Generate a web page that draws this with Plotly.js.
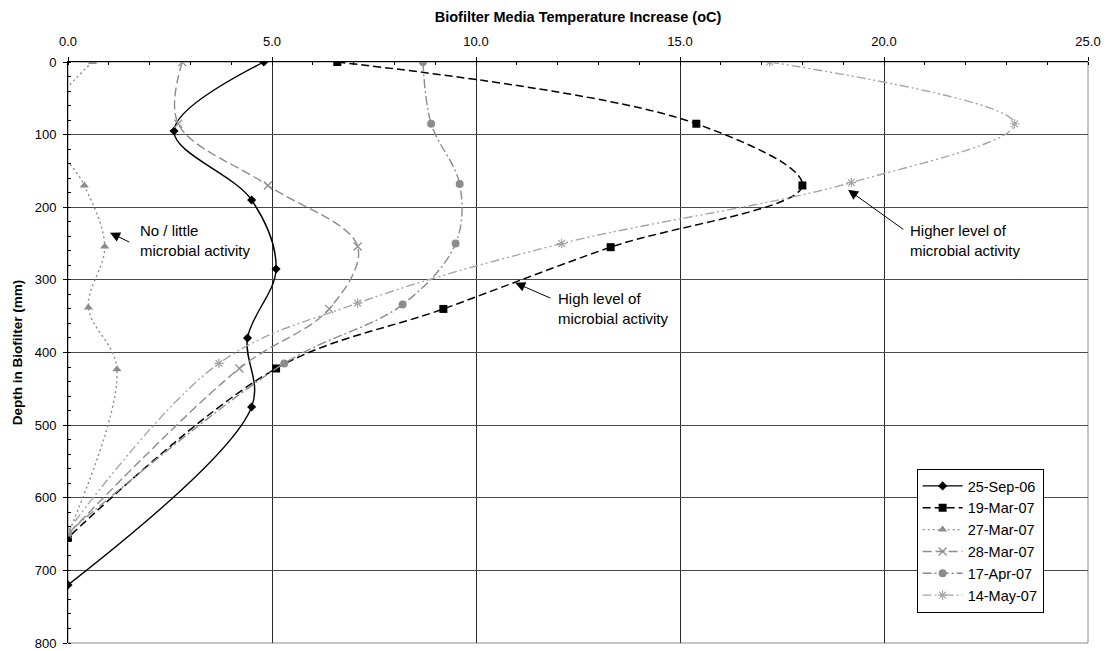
<!DOCTYPE html>
<html>
<head>
<meta charset="utf-8">
<script src="https://cdn.plot.ly/plotly-3.0.1.min.js"></script>
<style>html,body{margin:0;padding:0;background:#fff;}#chart{width:1107px;height:651px;}</style>
</head>
<body>
<div id="chart"></div>
<script>
// Data
const seriesNames = ["25-Sep-06", "19-Mar-07", "27-Mar-07", "28-Mar-07", "17-Apr-07", "14-May-07"];

const depthSep06 = [0, 95, 190, 285, 380, 475, 720];
const tempSep06  = [4.8, 2.6, 4.5, 5.1, 4.4, 4.5, 0.0];

const depthMar19 = [0, 85, 170, 255, 340, 422, 655];
const tempMar19  = [6.6, 15.4, 18.0, 13.3, 9.2, 5.1, 0.0];

const depthMar27 = [0, 85, 170, 254, 338, 423, 650];
const tempMar27  = [0.6, -0.5, 0.4, 0.9, 0.5, 1.2, 0.0];

const depthMar28 = [0, 85, 170, 254, 340, 422, 650];
const tempMar28  = [2.8, 2.7, 4.9, 7.1, 6.4, 4.2, 0.0];

const depthApr17 = [0, 85, 168, 250, 334, 415, 648];
const tempApr17  = [8.7, 8.9, 9.6, 9.5, 8.2, 5.3, 0.0];

const depthMay14 = [0, 85, 166, 250, 332, 415, 645];
const tempMay14  = [17.2, 23.2, 19.2, 12.1, 7.1, 3.7, 0.0];

const xTickVals = [0, 5, 10, 15, 20, 25];
const xTickText = ["0.0", "5.0", "10.0", "15.0", "20.0", "25.0"];
const yTickVals = [0, 100, 200, 300, 400, 500, 600, 700, 800];

const FONT = "Liberation Sans, Arial, sans-serif";

function tr(name, x, y, lineColor, dash, width, symbol, mColor, mSize, open) {
  const marker = {symbol: symbol, size: mSize, color: mColor};
  if (open) marker.line = {color: mColor, width: 1.2};
  return {
    type: "scatter", mode: "lines+markers", name: name,
    x: x, y: y,
    line: {color: lineColor, dash: dash, width: width, shape: "spline", smoothing: 1},
    marker: marker, cliponaxis: true
  };
}

const data = [
  tr(seriesNames[0], tempSep06, depthSep06, "#000000", "solid", 1.4, "diamond", "#000000", 7, false),
  tr(seriesNames[1], tempMar19, depthMar19, "#000000", "8px,4px", 1.5, "square", "#000000", 8, false),
  tr(seriesNames[2], tempMar27, depthMar27, "#8c8c8c", "2px,3px", 1.4, "triangle-up", "#8c8c8c", 8, false),
  tr(seriesNames[3], tempMar28, depthMar28, "#8c8c8c", "9px,4px", 1.4, "x-thin-open", "#8c8c8c", 8, true),
  tr(seriesNames[4], tempApr17, depthApr17, "#8c8c8c", "9px,3px,2px,3px", 1.4, "circle", "#8c8c8c", 8, false),
  tr(seriesNames[5], tempMay14, depthMay14, "#a6a6a6", "9px,3px,2px,3px,2px,3px", 1.4, "asterisk-open", "#a6a6a6", 8, true)
];

const layout = {
  width: 1107, height: 651,
  margin: {l: 68, r: 19, t: 62, b: 8, pad: 0},
  paper_bgcolor: "#ffffff", plot_bgcolor: "#ffffff",
  font: {family: FONT, color: "#000000", size: 13},
  showlegend: true,
  title: {
    text: "Biofilter Media Temperature Increase (oC)",
    font: {family: FONT, size: 14.5, weight: "bold", color: "#000000"},
    xref: "paper", x: 0.5, xanchor: "center",
    yref: "container", y: 1 - 17/651, yanchor: "middle"
  },
  xaxis: {
    side: "top", range: [0, 25], tickvals: xTickVals, ticktext: xTickText,
    showgrid: true, gridcolor: "#2b2b2b", gridwidth: 1,
    showline: true, linecolor: "#000000", linewidth: 1, mirror: false,
    ticks: "outside", ticklen: 4, tickcolor: "#000000", tickwidth: 1,
    minor: {dtick: 1, ticks: "inside", ticklen: 3, tickcolor: "#000000", showgrid: false},
    zeroline: false, ticklabelstandoff: 6, ticklabeloverflow: "allow",
    tickfont: {family: FONT, size: 13, color: "#000000"}
  },
  yaxis: {
    range: [800, 0], tickvals: yTickVals,
    showgrid: true, gridcolor: "#4a4a4a", gridwidth: 1,
    showline: true, linecolor: "#000000", linewidth: 1, mirror: false,
    ticks: "outside", ticklen: 4, tickcolor: "#000000", tickwidth: 1,
    minor: {dtick: 20, ticks: "inside", ticklen: 3, tickcolor: "#000000", showgrid: false},
    zeroline: false, ticklabelstandoff: 4, ticklabeloverflow: "allow",
    tickfont: {family: FONT, size: 13, color: "#000000"},
    title: {text: "Depth in Biofilter (mm)", standoff: 8,
            font: {family: FONT, size: 13.5, weight: "bold", color: "#000000"}}
  },
  legend: {
    x: 0.832, y: 0.2995, xanchor: "left", yanchor: "top",
    bgcolor: "#ffffff", bordercolor: "#000000", borderwidth: 1,
    font: {family: FONT, size: 14.5, color: "#000000"},
    itemwidth: 40, tracegroupgap: 0
  },
  shapes: [
    {type: "rect", xref: "paper", yref: "paper", x0: 0, x1: 1, y0: 0, y1: 1,
     line: {color: "#8a8a8a", width: 1}, fillcolor: "rgba(0,0,0,0)", layer: "below"}
  ],
  annotations: [
    {x: 1.03, y: 235, ax: 1.54, ay: 249, xref: "x", yref: "y", axref: "x", ayref: "y",
     text: "", showarrow: true, arrowhead: 2, arrowsize: 2, arrowwidth: 1, arrowcolor: "#000000", standoff: 0, startstandoff: 0},
    {x: 1.72, y: 246, xref: "x", yref: "y", xanchor: "left", yanchor: "middle", align: "left",
     text: "No / little<br>microbial activity", showarrow: false,
     font: {family: FONT, size: 15, color: "#000000"}},
    {x: 10.96, y: 304, ax: 11.86, ay: 326, xref: "x", yref: "y", axref: "x", ayref: "y",
     text: "", showarrow: true, arrowhead: 2, arrowsize: 2, arrowwidth: 1, arrowcolor: "#000000", standoff: 0, startstandoff: 0},
    {x: 11.96, y: 340, xref: "x", yref: "y", xanchor: "left", yanchor: "middle", align: "left",
     text: "High level of<br>microbial activity", showarrow: false,
     font: {family: FONT, size: 15, color: "#000000"}},
    {x: 19.12, y: 176, ax: 20.51, ay: 232, xref: "x", yref: "y", axref: "x", ayref: "y",
     text: "", showarrow: true, arrowhead: 2, arrowsize: 2, arrowwidth: 1, arrowcolor: "#000000", standoff: 0, startstandoff: 0},
    {x: 20.59, y: 246, xref: "x", yref: "y", xanchor: "left", yanchor: "middle", align: "left",
     text: "Higher level of<br>microbial activity", showarrow: false,
     font: {family: FONT, size: 15, color: "#000000"}}
  ]
};

Plotly.newPlot("chart", data, layout, {displayModeBar: false, staticPlot: true});
</script>
</body>
</html>
